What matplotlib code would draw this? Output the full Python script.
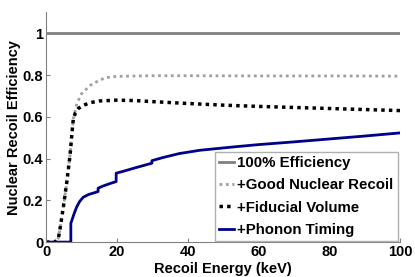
import matplotlib
matplotlib.use("Agg")
import matplotlib.pyplot as plt

# Recoil energy grids (keV) and efficiencies
energy_all = [0, 100]
eff_all = [1.0, 1.0]

energy_good = [0, 2.5, 3.5, 4, 4.9, 5.8, 6.8, 7.3, 7.7, 8.7, 10, 12.4, 15, 17,
               20, 30, 40, 60, 80, 100]
eff_good = [0, 0, 0.02, 0.07, 0.17, 0.28, 0.42, 0.52, 0.59, 0.664, 0.71, 0.75,
            0.775, 0.788, 0.794, 0.797, 0.797, 0.796, 0.796, 0.795]

energy_fid = [0, 2.5, 3.5, 4, 4.9, 5.8, 6.8, 7.3, 7.7, 8.3, 9.1, 10.5, 12.5, 15,
              20, 25, 30, 40, 50, 60, 70, 80, 90, 100]
eff_fid = [0, 0, 0.02, 0.07, 0.17, 0.28, 0.42, 0.52, 0.59, 0.62, 0.64, 0.655,
           0.668, 0.676, 0.68, 0.678, 0.673, 0.664, 0.656, 0.65, 0.645, 0.64,
           0.635, 0.63]

energy_timing = [0, 7.0, 7.0, 8, 8.7, 9.5, 10.5, 12, 14.7, 14.7, 16, 18, 19.8,
                 19.8, 22, 25, 29.9, 29.9, 33, 37.6, 43.5, 53, 60, 70, 80, 90, 100]
eff_timing = [0, 0, 0.09, 0.14, 0.17, 0.195, 0.215, 0.228, 0.242, 0.258, 0.268,
              0.28, 0.29, 0.33, 0.34, 0.355, 0.378, 0.39, 0.405, 0.424, 0.44,
              0.456, 0.467, 0.48, 0.494, 0.508, 0.523]

labels = ["100% Efficiency", "+Good Nuclear Recoil", "+Fiducial Volume",
          "+Phonon Timing"]

plt.rcParams["font.family"] = ["Liberation Sans", "DejaVu Sans"]
plt.rcParams["font.weight"] = "bold"

fig = plt.figure(figsize=(4.15, 2.77), dpi=100)
ax = fig.add_axes([0.111, 0.126, 0.853, 0.829])

ax.plot(energy_all, eff_all, color="#808080", lw=2, label=labels[0])
ax.plot(energy_good, eff_good, color="#a0a0a0", lw=2, ls=(0, (1, 1.3)),
        label=labels[1])
ax.plot(energy_fid, eff_fid, color="black", lw=2.5, ls=(0, (1, 1.2)),
        label=labels[2])
ax.plot(energy_timing, eff_timing, color="#00008b", lw=2, label=labels[3])

ax.set_xlim(0, 100)
ax.set_ylim(0, 1.1)
ax.set_xticks([0, 20, 40, 60, 80, 100])
ax.set_yticks([0, 0.2, 0.4, 0.6, 0.8, 1])
ax.set_yticklabels(["0", "0.2", "0.4", "0.6", "0.8", "1"])

for side in ["top", "right"]:
    ax.spines[side].set_visible(False)
for side in ["left", "bottom"]:
    ax.spines[side].set_color("#808080")
ax.tick_params(direction="in", length=3, color="#808080", labelsize=10.5, pad=2)

ax.set_xlabel("Recoil Energy (keV)", fontsize=10.5, fontweight="bold",
              labelpad=2.5)
ax.set_ylabel("Nuclear Recoil Efficiency", fontsize=10.5, fontweight="bold",
              labelpad=1)

leg = ax.legend(loc="lower right", bbox_to_anchor=(0.997, 0.0), fontsize=10.8,
                handlelength=1.0, handletextpad=0.2, labelspacing=0.55,
                borderaxespad=0.05, fancybox=False, framealpha=1,
                edgecolor="#b0b0b0", borderpad=0.3)
leg.get_frame().set_linewidth(1)

fig.savefig("out.png", dpi=100)
